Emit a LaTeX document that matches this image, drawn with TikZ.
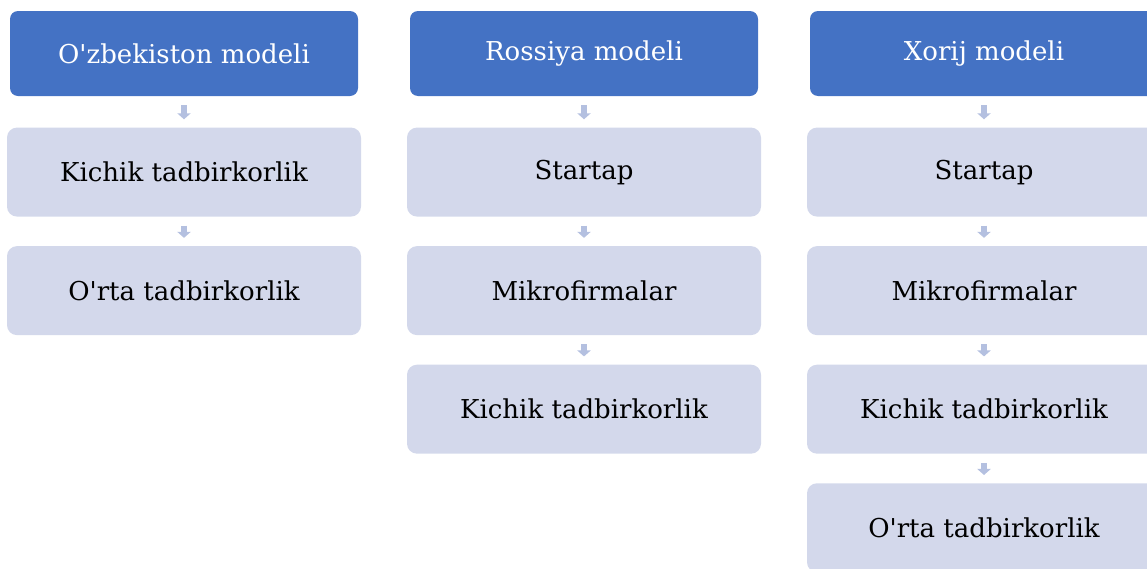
\documentclass[tikz,border=0pt]{standalone}
\usepackage{fontspec}
\setmainfont{DejaVu Serif}
\usetikzlibrary{positioning,arrows.meta}
\definecolor{headblue}{HTML}{4472C4}
\definecolor{stepfill}{HTML}{D3D8EB}
\definecolor{arrowblue}{HTML}{B4C0E0}
\begin{document}
\begin{tikzpicture}[
    node distance=0.725cm,
    model/.style={rectangle, fill=headblue, text=white, minimum width=8.7cm, minimum height=2.125cm, rounded corners=0.2cm, font=\fontsize{18.5}{22}\selectfont},
    stage/.style={rectangle, fill=stepfill, text=black, minimum width=8.85cm, minimum height=2.225cm, rounded corners=0.25cm, font=\fontsize{18.5}{22}\selectfont},
    flow/.style={line width=0.17cm, draw=arrowblue, -{Triangle[width=0.33cm, length=0.15cm]}, shorten <=0.22cm, shorten >=0.2cm}
]
\path[use as bounding box, clip] (0,0) rectangle (28.675,-14.2);

% O'zbekiston
\node[model] (uz) at (4.6,-1.3375) {O\textquotesingle zbekiston modeli};
\node[stage, below=0.775cm of uz] (uz1) {Kichik tadbirkorlik};
\node[stage, below=of uz1] (uz2) {O\textquotesingle rta tadbirkorlik};

% Rossiya
\node[model] (ru) at (14.6,-1.3375) {Rossiya modeli};
\node[stage, below=0.775cm of ru] (ru1) {Startap};
\node[stage, below=of ru1] (ru2) {Mikrofirmalar};
\node[stage, below=of ru2] (ru3) {Kichik tadbirkorlik};

% Xorij
\node[model] (xo) at (24.6,-1.3375) {Xorij modeli};
\node[stage, below=0.775cm of xo] (xo1) {Startap};
\node[stage, below=of xo1] (xo2) {Mikrofirmalar};
\node[stage, below=of xo2] (xo3) {Kichik tadbirkorlik};
\node[stage, below=of xo3] (xo4) {O\textquotesingle rta tadbirkorlik};

\draw[flow] (uz) -- (uz1);
\draw[flow] (uz1) -- (uz2);
\draw[flow] (ru) -- (ru1);
\draw[flow] (ru1) -- (ru2);
\draw[flow] (ru2) -- (ru3);
\draw[flow] (xo) -- (xo1);
\draw[flow] (xo1) -- (xo2);
\draw[flow] (xo2) -- (xo3);
\draw[flow] (xo3) -- (xo4);
\end{tikzpicture}
\end{document}
